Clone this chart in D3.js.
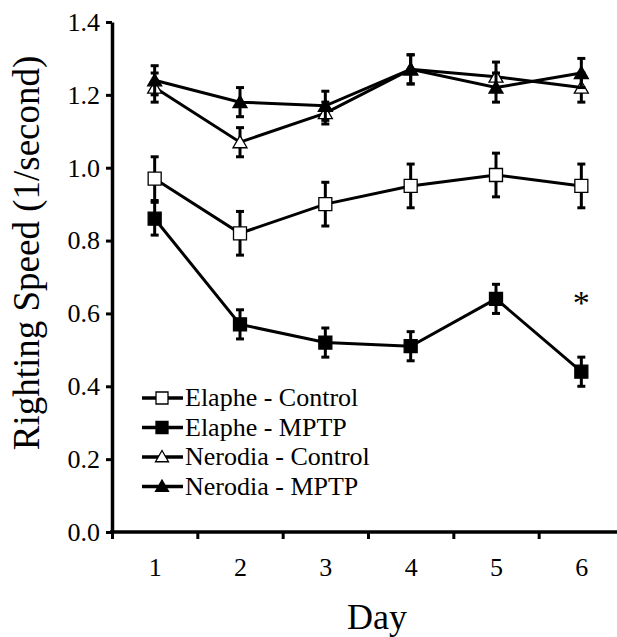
<!DOCTYPE html>
<html>
<head>
<meta charset="utf-8">
<script src="https://cdn.jsdelivr.net/npm/d3@7"></script>
<style>
  body { margin: 0; background: #fff; }
  svg text { font-family: "Liberation Serif", "Times New Roman", serif; fill: #000; }
</style>
</head>
<body>
<div id="chart"></div>
<script>
// Data
const days = [1, 2, 3, 4, 5, 6];
const seriesNames = ["Elaphe - Control", "Elaphe - MPTP", "Nerodia - Control", "Nerodia - MPTP"];
const elapheControl = [0.97, 0.82, 0.90, 0.95, 0.98, 0.95];
const elapheControlErr = [0.06, 0.06, 0.06, 0.06, 0.06, 0.06];
const elapheMPTP = [0.86, 0.57, 0.52, 0.51, 0.64, 0.44];
const elapheMPTPErr = [0.045, 0.04, 0.04, 0.04, 0.04, 0.04];
const nerodiaControl = [1.22, 1.07, 1.15, 1.27, 1.25, 1.22];
const nerodiaControlErr = [0.04, 0.04, 0.03, 0.04, 0.04, 0.04];
const nerodiaMPTP = [1.24, 1.18, 1.17, 1.27, 1.22, 1.26];
const nerodiaMPTPErr = [0.04, 0.04, 0.04, 0.04, 0.04, 0.04];
const yTicks = [0.0, 0.2, 0.4, 0.6, 0.8, 1.0, 1.2, 1.4];
const sigDay = 6;

const series = [
  { name: seriesNames[0], values: elapheControl, err: elapheControlErr, shape: "square", fill: "#fff" },
  { name: seriesNames[1], values: elapheMPTP, err: elapheMPTPErr, shape: "square", fill: "#000" },
  { name: seriesNames[2], values: nerodiaControl, err: nerodiaControlErr, shape: "triangle", fill: "#fff" },
  { name: seriesNames[3], values: nerodiaMPTP, err: nerodiaMPTPErr, shape: "triangle", fill: "#000" }
];

const W = 617, H = 637;
const margin = { top: 22, left: 112, bottom: 105 };

const svg = d3.select("#chart").append("svg")
    .attr("width", W)
    .attr("height", H);

const x = d3.scaleLinear().domain([0.5, 6.5]).range([margin.left, 624]);
const y = d3.scaleLinear().domain([0, 1.4]).range([H - margin.bottom, margin.top]);

// marker paths
const sq = d3.symbol().type(d3.symbolSquare);
const tri = d3.symbol().type(d3.symbolTriangle);
function markerPath(shape, size) {
  return shape === "square" ? sq.size(size * size)() : tri.size(size * size * 0.433)();
}

// X axis: ticks between days, labels at days
const xAxis = svg.append("g")
    .attr("transform", `translate(0,${y(0)})`)
    .call(d3.axisBottom(x).tickValues([0.5, 1.5, 2.5, 3.5, 4.5, 5.5]).tickFormat("").tickSize(7).tickSizeOuter(0));
xAxis.select(".domain").attr("stroke-width", 3.5).attr("d", `M${margin.left - 2},0H${W}`);
xAxis.selectAll(".tick line").attr("stroke-width", 3);

svg.append("g")
    .attr("transform", `translate(0,${y(0)})`)
    .call(d3.axisBottom(x).tickValues(days).tickFormat(d3.format("d")).tickSize(0).tickPadding(26))
    .call(g => g.select(".domain").remove())
    .selectAll("text").attr("font-size", 26);

// Y axis
const yAxis = svg.append("g")
    .attr("transform", `translate(${margin.left},0)`)
    .call(d3.axisLeft(y).tickValues(yTicks).tickFormat(d3.format(".1f")).tickSize(6).tickSizeOuter(0).tickPadding(6));
yAxis.select(".domain").attr("stroke-width", 3.5);
yAxis.selectAll(".tick line").attr("stroke-width", 3);
yAxis.selectAll("text").attr("font-size", 26);

// axis titles
svg.append("text")
    .attr("transform", `translate(39,${253}) rotate(-90)`)
    .attr("text-anchor", "middle")
    .attr("font-size", 37)
    .text("Righting Speed (1/second)");

svg.append("text")
    .attr("x", 377)
    .attr("y", 629)
    .attr("text-anchor", "middle")
    .attr("font-size", 36)
    .text("Day");

// series
const line = d3.line().x((d, i) => x(days[i])).y(d => y(d));

series.forEach(s => {
  const g = svg.append("g");
  g.append("path")
      .datum(s.values)
      .attr("d", line)
      .attr("fill", "none")
      .attr("stroke", "#000")
      .attr("stroke-width", 3);

  const eb = g.selectAll(".eb").data(s.values).enter().append("g");
  eb.append("line")
      .attr("x1", (d, i) => x(days[i])).attr("x2", (d, i) => x(days[i]))
      .attr("y1", (d, i) => y(d - s.err[i])).attr("y2", (d, i) => y(d + s.err[i]))
      .attr("stroke", "#000").attr("stroke-width", 3);
  [-1, 1].forEach(sign => {
    eb.append("line")
        .attr("x1", (d, i) => x(days[i]) - 4).attr("x2", (d, i) => x(days[i]) + 4)
        .attr("y1", (d, i) => y(d + sign * s.err[i])).attr("y2", (d, i) => y(d + sign * s.err[i]))
        .attr("stroke", "#000").attr("stroke-width", 3);
  });

  g.selectAll(".pt").data(s.values).enter().append("path")
      .attr("transform", (d, i) => `translate(${x(days[i])},${y(d) + (s.shape === "triangle" ? 1.5 : 0)})`)
      .attr("d", markerPath(s.shape, s.shape === "square" ? 13 : 14))
      .attr("fill", s.fill)
      .attr("stroke", "#000")
      .attr("stroke-width", 1.3);
});

// significance marker
svg.append("text")
    .attr("x", x(sigDay))
    .attr("y", y(0.6) + 1)
    .attr("text-anchor", "middle")
    .attr("font-size", 34)
    .text("*");

// legend
const legend = svg.append("g").attr("transform", "translate(142,398)");
series.forEach((s, i) => {
  const row = legend.append("g").attr("transform", `translate(0,${i * 29.5})`);
  row.append("line")
      .attr("x1", 0).attr("x2", 41)
      .attr("stroke", "#000").attr("stroke-width", 3.5);
  row.append("path")
      .attr("transform", `translate(20,${s.shape === "triangle" ? 1 : 0})`)
      .attr("d", markerPath(s.shape, s.shape === "square" ? 12 : 13))
      .attr("fill", s.fill)
      .attr("stroke", "#000")
      .attr("stroke-width", 1.3);
  row.append("text")
      .attr("x", 43)
      .attr("y", 8)
      .attr("font-size", 26)
      .text(s.name);
});
</script>
</body>
</html>
